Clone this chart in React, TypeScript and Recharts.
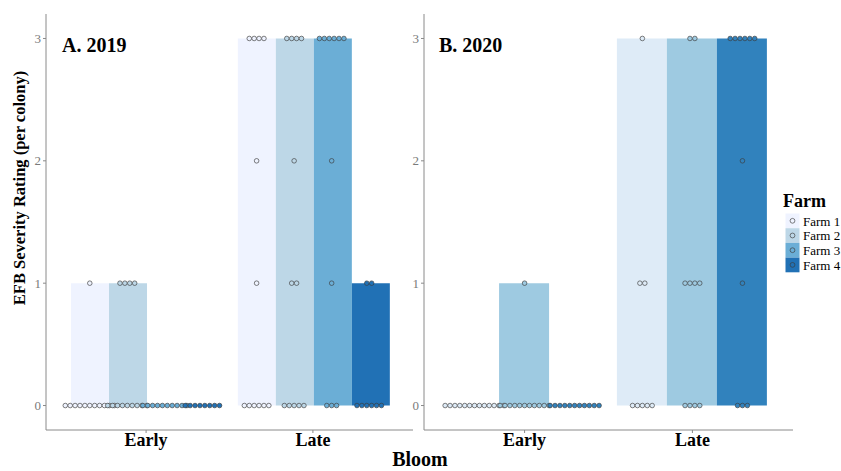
import { ComposedChart, Bar, Scatter, XAxis, YAxis } from "recharts";

const SERIF = "'Liberation Serif', 'Times New Roman', serif";
const AXIS = "#8a8a8a";
const TICK = "#7a7a7a";

const BLOOMS = ["Early", "Late"];
const Y_TICKS = [0, 1, 2, 3];
const FARMS = ["Farm 1", "Farm 2", "Farm 3", "Farm 4"];

// 2019: four farms (Blues, 4 classes)
const COLORS_2019 = ["#eff3ff", "#bdd7e7", "#6baed6", "#2171b5"];
const MAX_2019_EARLY = [1, 1, 0, 0];
const MAX_2019_LATE = [3, 3, 3, 1];
// colonies per rating level 0..3
const DOTS_2019_EARLY = [
  [11, 1, 0, 0],
  [9, 4, 0, 0],
  [10, 0, 0, 0],
  [8, 0, 0, 0],
];
const DOTS_2019_LATE = [
  [6, 1, 1, 4],
  [5, 2, 1, 4],
  [3, 1, 1, 6],
  [6, 2, 0, 0],
];

// 2020: three farms (Blues, 3 classes)
const COLORS_2020 = ["#deebf7", "#9ecae1", "#3182bd"];
const MAX_2020_EARLY = [0, 1, 0];
const MAX_2020_LATE = [3, 3, 3];
const DOTS_2020_EARLY = [
  [13, 0, 0, 0],
  [11, 1, 0, 0],
  [11, 0, 0, 0],
];
const DOTS_2020_LATE = [
  [5, 2, 0, 1],
  [4, 4, 0, 2],
  [3, 1, 1, 6],
];

const H = 471;
const PLOT_W = 367;
const PAD = PLOT_W / 2.2 * 0.1;
const BAND = (PLOT_W - 2 * PAD) / 2;
const DOT_D = 4.9;

function barRows(early: number[], late: number[]) {
  return BLOOMS.map((b, bi) => {
    const row: Record<string, string | number> = { bloom: b };
    (bi === 0 ? early : late).forEach((v, i) => (row[`f${i}`] = v));
    return row;
  });
}

function dotRows(early: number[], late: number[]) {
  const out: { bloom: string; rating: number; n: number }[] = [];
  [early, late].forEach((counts, bi) =>
    counts.forEach((n, level) => {
      if (n > 0) out.push({ bloom: BLOOMS[bi], rating: level, n });
    })
  );
  return out;
}

// eslint-disable-next-line @typescript-eslint/no-explicit-any
const dotShape = (offset: number, fill: string) => (props: any) => {
  const { cx, cy, payload } = props;
  const n = payload.n;
  return (
    <g>
      {Array.from({ length: n }, (_, k) => (
        <circle
          key={k}
          cx={cx + offset + (k - (n - 1) / 2) * DOT_D}
          cy={cy}
          r={2.3}
          fill={fill}
          stroke="#3c3c3c"
          strokeOpacity={0.65}
          strokeWidth={1}
        />
      ))}
    </g>
  );
};

function Panel({
  left,
  width,
  margin,
  colors,
  maxEarly,
  maxLate,
  dotsEarly,
  dotsLate,
}: {
  left: number;
  width: number;
  margin: { top: number; right: number; bottom: number; left: number };
  colors: string[];
  maxEarly: number[];
  maxLate: number[];
  dotsEarly: number[][];
  dotsLate: number[][];
}) {
  const n = colors.length;
  const barW = (BAND * 0.9) / n;
  return (
    <div style={{ position: "absolute", left, top: 0 }}>
      <ComposedChart
        width={width}
        height={H}
        data={barRows(maxEarly, maxLate)}
        margin={margin}
        barCategoryGap="5%"
        barGap={0}
      >
        <XAxis
          dataKey="bloom"
          type="category"
          allowDuplicatedCategory={false}
          padding={{ left: PAD, right: PAD }}
          height={41}
          stroke={AXIS}
          tickSize={3}
          tickMargin={0}
          tick={{ fill: "#000", fontSize: 18, fontWeight: 700, fontFamily: SERIF }}
        />
        <YAxis
          type="number"
          domain={[-0.2, 3.2]}
          ticks={Y_TICKS}
          allowDataOverflow
          width={30}
          stroke={AXIS}
          tickSize={3}
          tickMargin={2}
          tick={{ fill: TICK, fontSize: 13, fontFamily: SERIF }}
        />
        {colors.map((c, i) => (
          <Bar key={`b${i}`} dataKey={`f${i}`} fill={c} isAnimationActive={false} />
        ))}
        {colors.map((c, i) => (
          <Scatter
            key={`s${i}`}
            data={dotRows(dotsEarly[i], dotsLate[i])}
            dataKey="rating"
            shape={dotShape((i - (n - 1) / 2) * barW, c)}
            isAnimationActive={false}
          />
        ))}
      </ComposedChart>
    </div>
  );
}

export default function App() {
  return (
    <div
      style={{
        position: "absolute",
        left: 0,
        top: 0,
        width: 841,
        height: H,
        background: "#fff",
        fontFamily: SERIF,
      }}
    >
      <Panel
        left={0}
        width={420}
        margin={{ top: 14, right: 7, bottom: 0, left: 16 }}
        colors={COLORS_2019}
        maxEarly={MAX_2019_EARLY}
        maxLate={MAX_2019_LATE}
        dotsEarly={DOTS_2019_EARLY}
        dotsLate={DOTS_2019_LATE}
      />
      <Panel
        left={394}
        width={400}
        margin={{ top: 14, right: 1, bottom: 0, left: 0 }}
        colors={COLORS_2020}
        maxEarly={MAX_2020_EARLY}
        maxLate={MAX_2020_LATE}
        dotsEarly={DOTS_2020_EARLY}
        dotsLate={DOTS_2020_LATE}
      />
      <svg
        width={841}
        height={H}
        style={{ position: "absolute", left: 0, top: 0, pointerEvents: "none" }}
        fontFamily={SERIF}
      >
        <text x={62} y={51.5} fontSize={20} fontWeight={700}>
          A. 2019
        </text>
        <text x={439} y={51.5} fontSize={20} fontWeight={700}>
          B. 2020
        </text>
        <text
          transform="translate(25,188) rotate(-90)"
          textAnchor="middle"
          fontSize={16.5}
          fontWeight={700}
        >
          EFB Severity Rating (per colony)
        </text>
        <text x={420} y={466} textAnchor="middle" fontSize={20} fontWeight={700}>
          Bloom
        </text>
        <text x={783} y={207} fontSize={18} fontWeight={700}>
          Farm
        </text>
        {FARMS.map((f, i) => (
          <g key={f}>
            <rect x={785.5} y={213.5 + i * 14.7} width={14} height={14.7} fill={COLORS_2019[i]} />
            <circle
              cx={792.5}
              cy={220.8 + i * 14.7}
              r={2.4}
              fill={COLORS_2019[i]}
              stroke="#3c3c3c"
              strokeOpacity={0.65}
              strokeWidth={1}
            />
            <text x={803} y={225.5 + i * 14.7} fontSize={13}>
              {f}
            </text>
          </g>
        ))}
      </svg>
    </div>
  );
}
